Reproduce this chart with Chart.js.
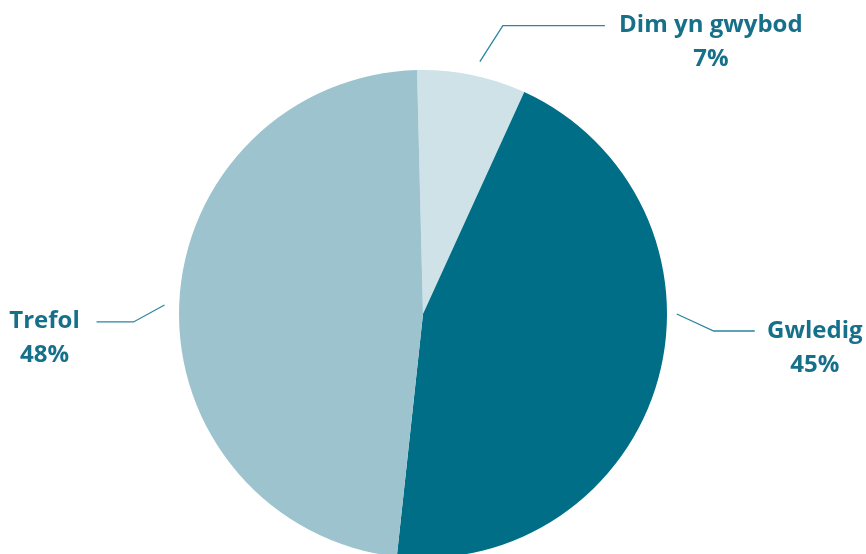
<!DOCTYPE html>
<html>
<head>
<meta charset="utf-8">
<script src="https://cdn.jsdelivr.net/npm/chart.js@4"></script>
<style>
  html, body { margin: 0; padding: 0; background: #ffffff; overflow: hidden; }
  #wrap { width: 866px; height: 554px; overflow: hidden; position: relative; }
  canvas { display: block; }
</style>
</head>
<body>
<div id="wrap"><canvas id="c" width="866" height="640"></canvas></div>
<script>
// ---- Data ----
const categories = ['Dim yn gwybod', 'Gwledig', 'Trefol'];
const shares = [7.2, 44.9, 47.9];
const shareLabels = ['7%', '45%', '48%'];
const sliceColors = ['#cfe2e7', '#006e87', '#9dc4ce'];

// ---- Label layout (callout leader lines) ----
const calloutLayout = [
  { angle: 12.7, rf: 1.06, elbow: [23, -36], end: [102, 0], text: [106, -1] },
  { angle: 90.0, rf: 1.04, elbow: [37, 17], end: [41, 0], text: [60, 0] },
  { angle: 272.0, rf: 1.06, elbow: [-31, 17], end: [-37, 0], text: [-52, -1] }
];

const calloutPlugin = {
  id: 'callouts',
  afterDatasetsDraw(chart) {
    const ctx = chart.ctx;
    const meta = chart.getDatasetMeta(0);
    const arc0 = meta.data[0];
    const cx = arc0.x, cy = arc0.y, r = arc0.outerRadius;
    ctx.save();
    meta.data.forEach((arc, i) => {
      const L = calloutLayout[i];
      const a = (L.angle - 90) * Math.PI / 180;
      const ax = cx + Math.cos(a) * r * L.rf;
      const ay = cy + Math.sin(a) * r * L.rf;
      const ex = ax + L.elbow[0], ey = ay + L.elbow[1];
      const fx = ex + L.end[0], fy = ey + L.end[1];
      ctx.strokeStyle = '#2a86a0';
      ctx.lineWidth = 1.3;
      ctx.beginPath();
      ctx.moveTo(ax, ay);
      ctx.lineTo(ex, ey);
      ctx.lineTo(fx, fy);
      ctx.stroke();
      const tx = fx + L.text[0], ty = fy + L.text[1];
      ctx.fillStyle = '#16708a';
      ctx.font = 'bold 24px "Open Sans", Lato, sans-serif';
      ctx.textAlign = 'center';
      ctx.textBaseline = 'middle';
      ctx.fillText(chart.data.labels[i], tx, ty);
      ctx.fillText(shareLabels[i], tx, ty + 34);
    });
    ctx.restore();
  }
};

new Chart(document.getElementById('c'), {
  type: 'pie',
  data: {
    labels: categories,
    datasets: [{
      data: shares,
      backgroundColor: sliceColors,
      borderWidth: 0
    }]
  },
  options: {
    responsive: false,
    animation: false,
    rotation: -1.4,
    layout: { padding: { left: 179, right: 199, top: 70, bottom: 82 } },
    plugins: {
      legend: { display: false },
      tooltip: { enabled: false },
      title: { display: false }
    }
  },
  plugins: [calloutPlugin]
});
</script>
</body>
</html>
